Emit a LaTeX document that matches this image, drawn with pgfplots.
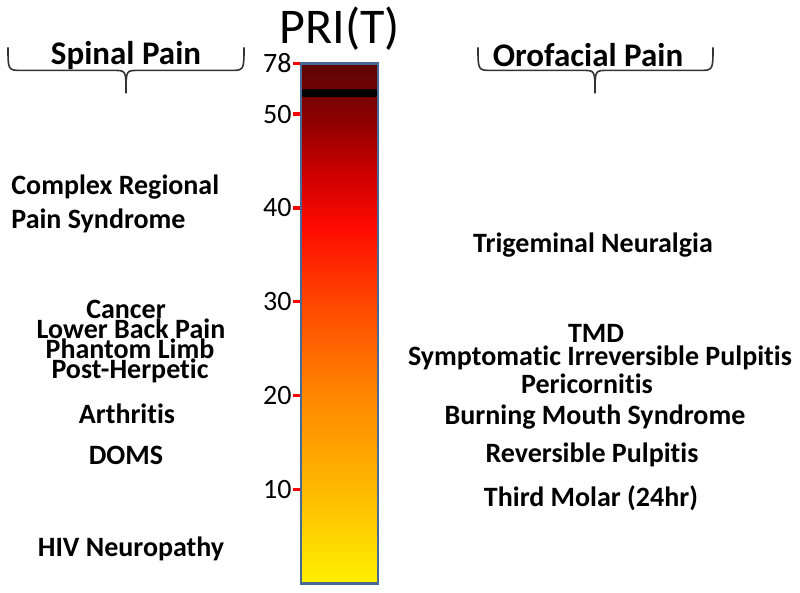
\documentclass[border=0pt]{standalone}
\usepackage{pgfplots}
\pgfplotsset{compat=1.18}
\usepackage{fontspec}
\setmainfont{Carlito}[Ligatures=NoCommon]
\definecolor{barblue}{RGB}{70,105,150}
\begin{document}
\begin{tikzpicture}
% bar: pixel box x 301..378, y 63..583 (1px = 0.5pt)
\begin{axis}[
  at={(150.5pt,-291.5pt)}, anchor=south west,
  width=38.5pt, height=260pt, scale only axis,
  xmin=0, xmax=1, ymin=0, ymax=55.4,
  xtick=\empty,
  ytick={10,20,30,40,50,55.4},
  yticklabels={10,20,30,40,50,78},
  ytick pos=left, tick align=outside,
  major tick length=4pt,
  tick style={draw=red, line width=1.6pt},
  axis line style={draw=barblue, line width=1.2pt},
  axis on top=true,
  /pgf/number format/assume math mode=true,
  yticklabel style={font=\fontsize{14}{16}\selectfont, inner sep=0pt, xshift=-0.5pt},
  colormap={pri}{rgb255(0)=(255,240,0) rgb255(100)=(255,185,0) rgb255(200)=(255,135,0)
    rgb255(300)=(255,70,0) rgb255(380)=(255,10,0) rgb255(440)=(200,0,0)
    rgb255(500)=(135,0,0) rgb255(554)=(90,5,5)},
  point meta min=0, point meta max=55.4,
  clip=false,
]
\addplot[surf, shader=interp, mesh/cols=2, point meta=y] coordinates {
  (0,0) (1,0)
  (0,10) (1,10)
  (0,20) (1,20)
  (0,30) (1,30)
  (0,38) (1,38)
  (0,44) (1,44)
  (0,50) (1,50)
  (0,55.4) (1,55.4)
};
\addplot[black, line width=4pt, line cap=round] coordinates {(0.04,52.2) (0.96,52.2)};
\end{axis}
\begin{scope}[x=0.5pt, y=-0.5pt]
  \path (0,0) rectangle (800,592);
  \node[font=\fontsize{25}{29}\selectfont] at (340,28) {PRI(T)};
  % headers and braces
  \node[font=\fontsize{16.5}{19}\selectfont\bfseries] at (126,55) {Spinal Pain};
  \node[font=\fontsize{16.5}{19}\selectfont\bfseries] at (588,55) {Orofacial Pain};
  \draw[line width=0.8pt, black!80]
    (8,47) .. controls (8,70) .. (22,70) -- (114,70)
    .. controls (126,70) .. (126,93) .. controls (126,70) .. (138,70)
    -- (230,70) .. controls (244,70) .. (244,47);
  \draw[line width=0.8pt, black!80]
    (478,47) .. controls (478,70) .. (492,70) -- (583,70)
    .. controls (595,70) .. (595,93) .. controls (595,70) .. (607,70)
    -- (699,70) .. controls (713,70) .. (713,47);
  \begin{scope}[every node/.style={font=\fontsize{14}{16}\selectfont\bfseries, inner sep=0pt}]
    \node[anchor=west] at (11,187) {Complex Regional};
    \node[anchor=west] at (11,220) {Pain Syndrome};
    \node at (126,309) {Cancer};
    \node at (131,328) {Lower Back Pain};
    \node at (130,348) {Phantom Limb};
    \node at (130,370) {Post-Herpetic};
    \node at (127,413) {Arthritis};
    \node at (126,455) {DOMS};
    \node at (131,548) {HIV Neuropathy};
    \node at (593,245) {Trigeminal Neuralgia};
    \node at (596,333) {TMD};
    \node at (600,357) {Symptomatic Irreversible Pulpitis};
    \node at (587,383) {Pericornitis};
    \node at (595,417) {Burning Mouth Syndrome};
    \node at (592,454) {Reversible Pulpitis};
    \node at (591,498) {Third Molar (24hr)};
  \end{scope}
\end{scope}
\end{tikzpicture}
\end{document}
